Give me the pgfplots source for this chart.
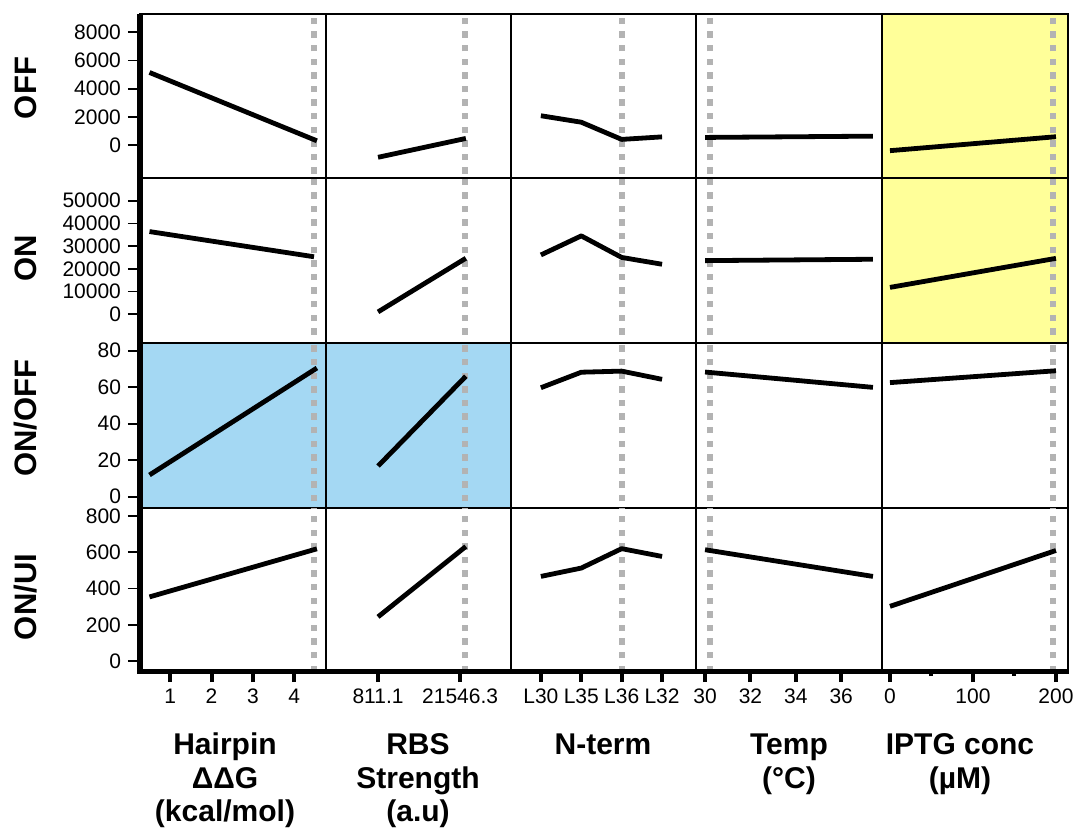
\documentclass[border=0pt]{standalone}
\usepackage{pgfplots}
\pgfplotsset{compat=1.18}
\usepackage{fontspec}
\setmainfont{Liberation Sans}

\definecolor{cellblue}{HTML}{A4D8F3}
\definecolor{cellyellow}{HTML}{FFFF99}
\definecolor{optgray}{HTML}{B3B3B3}

\pgfplotsset{
  cell/.style={
    scale only axis, anchor=north west,
    axis line style={line width=0.9pt},
    xtick=\empty, ytick=\empty,
    tick align=outside, major tick length=6pt,
    scaled ticks=false, clip=true,
    /pgf/number format/assume math mode=true,
    /pgf/number format/1000 sep={},
    ticklabel style={font=\fontsize{10.5}{12}\selectfont},
  },
  % rows
  r1/.style={height=82pt, ymin=-2340, ymax=9300},
  r2/.style={height=82.5pt, ymin=-12700, ymax=60000},
  r3/.style={height=82.5pt, ymin=-6.2, ymax=84.2},
  r4/.style={height=81pt, ymin=-49, ymax=844},
  % columns
  c1/.style={width=93pt, xmin=0.27, xmax=4.77},
  c2/.style={width=92.5pt, xmin=-0.634, xmax=1.62},
  c3/.style={width=92.5pt, xmin=-0.74, xmax=3.84},
  c4/.style={width=93pt, xmin=29.6, xmax=37.8},
  c5/.style={width=93pt, xmin=-9.6, xmax=214.5},
  % y ticks on first column
  yt1/.style={ytick={0,2000,4000,6000,8000}, ytick pos=left, ytick style={line width=0.9pt,black}},
  yt2/.style={ytick={0,10000,20000,30000,40000,50000}, ytick pos=left, ytick style={line width=0.9pt,black}},
  yt3/.style={ytick={0,20,40,60,80}, ytick pos=left, ytick style={line width=0.9pt,black}},
  yt4/.style={ytick={0,200,400,600,800}, ytick pos=left, ytick style={line width=0.9pt,black}},
  % x ticks on bottom row
  xbot/.style={xtick pos=bottom, xtick style={line width=2pt,black}},
  trend/.style={black, line width=2.4pt, line cap=butt, line join=round},
  opt/.style={optgray, line width=3pt, dash pattern=on 3.2pt off 3.6pt},
  blue/.style={axis background/.style={fill=cellblue}},
  yellow/.style={axis background/.style={fill=cellyellow}},
}

\begin{document}
\begin{tikzpicture}

% ---------- row 1: OFF ----------
\begin{axis}[cell, r1, c1, yt1, at={(70pt,-7pt)}]
  \addplot[opt] coordinates {(4.48,-3000) (4.48,10000)};
  \addplot[trend] coordinates {(0.5,5150) (4.55,300)};
\end{axis}
\begin{axis}[cell, r1, c2, at={(163pt,-7pt)}]
  \addplot[opt] coordinates {(1.06,-3000) (1.06,10000)};
  \addplot[trend] coordinates {(0,-870) (1.07,470)};
\end{axis}
\begin{axis}[cell, r1, c3, at={(255.5pt,-7pt)}]
  \addplot[opt] coordinates {(2,-3000) (2,10000)};
  \addplot[trend] coordinates {(0,2080) (1,1620) (2,400) (3,580)};
\end{axis}
\begin{axis}[cell, r1, c4, at={(348pt,-7pt)}]
  \addplot[opt] coordinates {(30.2,-3000) (30.2,10000)};
  \addplot[trend] coordinates {(30,540) (37.4,630)};
\end{axis}
\begin{axis}[cell, r1, c5, yellow, at={(441pt,-7pt)}]
  \addplot[opt] coordinates {(196,-3000) (196,10000)};
  \addplot[trend] coordinates {(0,-400) (200,590)};
\end{axis}

% ---------- row 2: ON ----------
\begin{axis}[cell, r2, c1, yt2, at={(70pt,-89pt)}]
  \addplot[opt] coordinates {(4.48,-15000) (4.48,65000)};
  \addplot[trend] coordinates {(0.5,36400) (4.48,25300)};
\end{axis}
\begin{axis}[cell, r2, c2, at={(163pt,-89pt)}]
  \addplot[opt] coordinates {(1.06,-15000) (1.06,65000)};
  \addplot[trend] coordinates {(0,1000) (1.07,24650)};
\end{axis}
\begin{axis}[cell, r2, c3, at={(255.5pt,-89pt)}]
  \addplot[opt] coordinates {(2,-15000) (2,65000)};
  \addplot[trend] coordinates {(0,26100) (1,34500) (2,25000) (3,22000)};
\end{axis}
\begin{axis}[cell, r2, c4, at={(348pt,-89pt)}]
  \addplot[opt] coordinates {(30.2,-15000) (30.2,65000)};
  \addplot[trend] coordinates {(30,23600) (37.4,24200)};
\end{axis}
\begin{axis}[cell, r2, c5, yellow, at={(441pt,-89pt)}]
  \addplot[opt] coordinates {(196,-15000) (196,65000)};
  \addplot[trend] coordinates {(0,11800) (200,24600)};
\end{axis}

% ---------- row 3: ON/OFF ----------
\begin{axis}[cell, r3, c1, yt3, blue, at={(70pt,-171.5pt)}]
  \addplot[opt] coordinates {(4.48,-10) (4.48,90)};
  \addplot[trend] coordinates {(0.5,11.9) (4.55,70.5)};
\end{axis}
\begin{axis}[cell, r3, c2, blue, at={(163pt,-171.5pt)}]
  \addplot[opt] coordinates {(1.06,-10) (1.06,90)};
  \addplot[trend] coordinates {(0,16.8) (1.07,66)};
\end{axis}
\begin{axis}[cell, r3, c3, at={(255.5pt,-171.5pt)}]
  \addplot[opt] coordinates {(2,-10) (2,90)};
  \addplot[trend] coordinates {(0,59.7) (1,68.2) (2,68.8) (3,64.3)};
\end{axis}
\begin{axis}[cell, r3, c4, at={(348pt,-171.5pt)}]
  \addplot[opt] coordinates {(30.2,-10) (30.2,90)};
  \addplot[trend] coordinates {(30,68.3) (37.4,59.9)};
\end{axis}
\begin{axis}[cell, r3, c5, at={(441pt,-171.5pt)}]
  \addplot[opt] coordinates {(196,-10) (196,90)};
  \addplot[trend] coordinates {(0,62.5) (200,69)};
\end{axis}

% ---------- row 4: ON/UI ----------
\begin{axis}[cell, r4, c1, yt4, xbot, at={(70pt,-254pt)},
    xtick={1,2,3,4}]
  \addplot[opt] coordinates {(4.48,-60) (4.48,900)};
  \addplot[trend] coordinates {(0.5,354) (4.55,619)};
\end{axis}
\begin{axis}[cell, r4, c2, xbot, at={(163pt,-254pt)},
    xtick={0,1}, xticklabels={811.1,21546.3}]
  \addplot[opt] coordinates {(1.06,-60) (1.06,900)};
  \addplot[trend] coordinates {(0,244) (1.07,632)};
\end{axis}
\begin{axis}[cell, r4, c3, xbot, at={(255.5pt,-254pt)},
    xtick={0,1,2,3}, xticklabels={L30,L35,L36,L32}]
  \addplot[opt] coordinates {(2,-60) (2,900)};
  \addplot[trend] coordinates {(0,467) (1,513) (2,620) (3,577)};
\end{axis}
\begin{axis}[cell, r4, c4, xbot, at={(348pt,-254pt)},
    xtick={30,32,34,36}]
  \addplot[opt] coordinates {(30.2,-60) (30.2,900)};
  \addplot[trend] coordinates {(30,614) (37.4,467)};
\end{axis}
\begin{axis}[cell, r4, c5, xbot, at={(441pt,-254pt)},
    xtick={0,100,200}, minor xtick={50,150}, minor tick length=3pt]
  \addplot[opt] coordinates {(196,-60) (196,900)};
  \addplot[trend] coordinates {(0,302) (200,610)};
\end{axis}

% heavy outer axis lines
\draw[line width=3pt] (70pt,-7pt) -- (70pt,-336.5pt);
\draw[line width=2.5pt] (68.5pt,-335.5pt) -- (534.5pt,-335.5pt);

% row labels
\begin{scope}[font=\fontsize{15.5}{18}\selectfont\bfseries]
  \node[rotate=90] at (13pt,-44pt) {OFF};
  \node[rotate=90] at (13pt,-129pt) {ON};
  \node[rotate=90] at (13pt,-209pt) {ON/OFF};
  \node[rotate=90] at (13pt,-298.5pt) {ON/UI};
\end{scope}

% column titles
\begin{scope}[font=\fontsize{15}{18}\selectfont\bfseries, anchor=base]
  \node at (112.5pt,-377pt) {Hairpin};
  \node at (112.5pt,-394pt) {ΔΔG};
  \node at (112.5pt,-410.5pt) {(kcal/mol)};
  \node at (209pt,-377pt) {RBS};
  \node at (209pt,-394pt) {Strength};
  \node at (209pt,-410.5pt) {(a.u)};
  \node at (301.5pt,-377pt) {N-term};
  \node at (394.5pt,-377pt) {Temp};
  \node at (394.5pt,-394pt) {(°C)};
  \node at (480pt,-377pt) {IPTG conc};
  \node at (480pt,-394pt) {(µM)};
\end{scope}

\pgfresetboundingbox
\path[use as bounding box] (0pt,0pt) rectangle (539pt,-416pt);
\end{tikzpicture}
\end{document}
